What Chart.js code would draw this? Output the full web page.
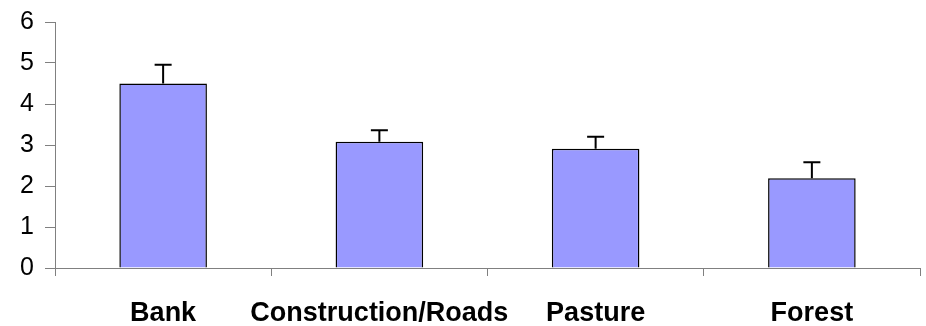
<!DOCTYPE html>
<html>
<head>
<meta charset="utf-8">
<script src="https://cdn.jsdelivr.net/npm/chart.js@4/dist/chart.umd.min.js"></script>
<style>
html,body{margin:0;padding:0;background:#fff;}
#wrap{width:926px;height:326px;}
</style>
</head>
<body>
<div id="wrap"><canvas id="c" width="926" height="326"></canvas></div>
<script>
const categories = ["Bank", "Construction/Roads", "Pasture", "Forest"];
const values = [4.5, 3.08, 2.91, 2.19];
const errors = [0.46, 0.28, 0.29, 0.39];
const yTicks = [0, 1, 2, 3, 4, 5, 6];

const errorBarPlugin = {
  id: 'errorBars',
  afterDatasetsDraw(chart) {
    const ctx = chart.ctx;
    const meta = chart.getDatasetMeta(0);
    const y = chart.scales.y;
    ctx.save();
    ctx.strokeStyle = '#000';
    ctx.lineWidth = 2;
    meta.data.forEach((bar, i) => {
      const x = bar.x;
      const yTop = y.getPixelForValue(values[i] + errors[i]);
      const yBase = y.getPixelForValue(values[i]);
      ctx.beginPath();
      ctx.moveTo(x, yBase);
      ctx.lineTo(x, yTop);
      ctx.moveTo(x - 8.5, yTop);
      ctx.lineTo(x + 8.5, yTop);
      ctx.stroke();
    });
    ctx.restore();
  }
};

new Chart(document.getElementById('c'), {
  type: 'bar',
  data: {
    labels: categories,
    datasets: [{
      data: values,
      backgroundColor: '#9999FF',
      borderColor: '#000000',
      borderWidth: 1.5,
      categoryPercentage: 1.0,
      barPercentage: 0.405
    }]
  },
  options: {
    responsive: false,
    animation: false,
    devicePixelRatio: 1,
    layout: { padding: { top: 22, right: 6, left: 0, bottom: 0 } },
    plugins: { legend: { display: false }, tooltip: { enabled: false } },
    scales: {
      x: {
        afterFit(scale) { scale.height = 58; scale.paddingLeft = 0; scale.paddingRight = 0; },
        grid: { display: true, drawOnChartArea: false, drawTicks: true, tickLength: 8, color: '#808080', offset: true },
        border: { display: true, color: '#808080', width: 1 },
        ticks: {
          color: '#000',
          padding: 21,
          maxRotation: 0,
          autoSkip: false,
          font: { family: "Arial, 'Liberation Sans', sans-serif", size: 27, weight: 'bold' }
        }
      },
      y: {
        min: 0,
        max: 6,
        afterFit(scale) { scale.width = 55; scale.paddingTop = 0; scale.paddingBottom = 0; },
        afterBuildTicks(scale) { scale.ticks = yTicks.map(v => ({ value: v })); },
        grid: { display: true, drawOnChartArea: false, drawTicks: true, tickLength: 10, color: '#808080' },
        border: { display: true, color: '#808080', width: 1 },
        ticks: {
          color: '#000',
          padding: 11,
          font: { family: "Arial, 'Liberation Sans', sans-serif", size: 25 }
        }
      }
    }
  },
  plugins: [errorBarPlugin]
});
</script>
</body>
</html>
